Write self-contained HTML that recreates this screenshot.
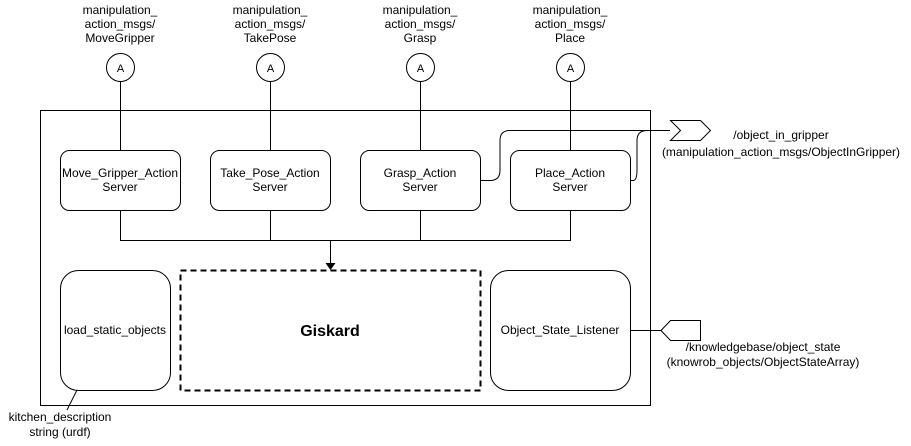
<!DOCTYPE html>
<html><head><style>body{margin:0;background:#fff}</style></head><body>
<svg width="911" height="441" xmlns="http://www.w3.org/2000/svg" font-family="Liberation Sans, Arial, sans-serif" font-size="12">
<rect width="911" height="441" fill="#fff"/>
<g fill="none" stroke="#000" stroke-width="1">
<rect x="40.5" y="110.5" width="610" height="295"/>
<line x1="120.5" y1="81" x2="120.5" y2="150"/>
<line x1="270.5" y1="81" x2="270.5" y2="150"/>
<line x1="420.5" y1="81" x2="420.5" y2="150"/>
<line x1="570.5" y1="81" x2="570.5" y2="150"/>
<circle cx="120.5" cy="67.5" r="14"/>
<circle cx="270.5" cy="67.5" r="14"/>
<circle cx="420.5" cy="67.5" r="14"/>
<circle cx="570.5" cy="67.5" r="14"/>
<rect x="60.5" y="150.5" width="120" height="60" rx="9"/>
<rect x="210.5" y="150.5" width="120" height="60" rx="9"/>
<rect x="360.5" y="150.5" width="120" height="60" rx="9"/>
<rect x="510.5" y="150.5" width="120" height="60" rx="9"/>
<path d="M120.5 210v30.5h450v-30M270.5 210v30M420.5 210v30M330.5 240.5v24"/>
<path d="M480 180.5h10q10 0 10-10v-30q0-10 10-10h160"/>
<path d="M630 180.5h3q4 0 4-10v-30q0-10 10-10"/>
<polygon points="670.5,120.5 700.5,120.5 710.5,130.5 700.5,140.5 670.5,140.5 680.5,130.5"/>
<rect x="60.5" y="270.5" width="110" height="120" rx="18"/>
<rect x="490.5" y="270.5" width="140" height="120" rx="18"/>
<rect x="180.5" y="270.5" width="300" height="120" stroke-width="2" stroke-dasharray="6,4"/>
<line x1="630" y1="330.5" x2="661" y2="330.5"/>
<polygon points="661,330.5 670.5,320.5 700.5,320.5 700.5,340.5 670.5,340.5"/>
<line x1="77" y1="390" x2="67" y2="410"/>
</g>
<polygon points="325.5,263 335.5,263 330.5,270" fill="#000"/>
<g text-anchor="middle" fill="#000">
<text x="120" y="14">manipulation_</text><text x="120" y="28">action_msgs/</text><text x="120" y="42">MoveGripper</text>
<text x="270" y="14">manipulation_</text><text x="270" y="28">action_msgs/</text><text x="270" y="42">TakePose</text>
<text x="420" y="14">manipulation_</text><text x="420" y="28">action_msgs/</text><text x="420" y="42">Grasp</text>
<text x="570" y="14">manipulation_</text><text x="570" y="28">action_msgs/</text><text x="570" y="42">Place</text>
<text x="120.5" y="72" font-size="11">A</text><text x="270.5" y="72" font-size="11">A</text><text x="420.5" y="72" font-size="11">A</text><text x="570.5" y="72" font-size="11">A</text>
<text x="120" y="177">Move_Gripper_Action</text><text x="120" y="191">Server</text>
<text x="270" y="177">Take_Pose_Action</text><text x="270" y="191">Server</text>
<text x="420" y="177">Grasp_Action</text><text x="420" y="191">Server</text>
<text x="570" y="177">Place_Action</text><text x="570" y="191">Server</text>
<text x="115" y="334">load_static_objects</text>
<text x="560" y="334">Object_State_Listener</text>
<text x="330" y="336" font-size="16" font-weight="bold">Giskard</text>
<text x="781" y="139">/object_in_gripper</text>
<text x="781" y="156">(manipulation_action_msgs/ObjectInGripper)</text>
<text x="763" y="351">/knowledgebase/object_state</text>
<text x="763" y="366">(knowrob_objects/ObjectStateArray)</text>
<text x="60" y="421">kitchen_description</text>
<text x="60" y="436">string (urdf)</text>
</g>
</svg>
</body></html>
